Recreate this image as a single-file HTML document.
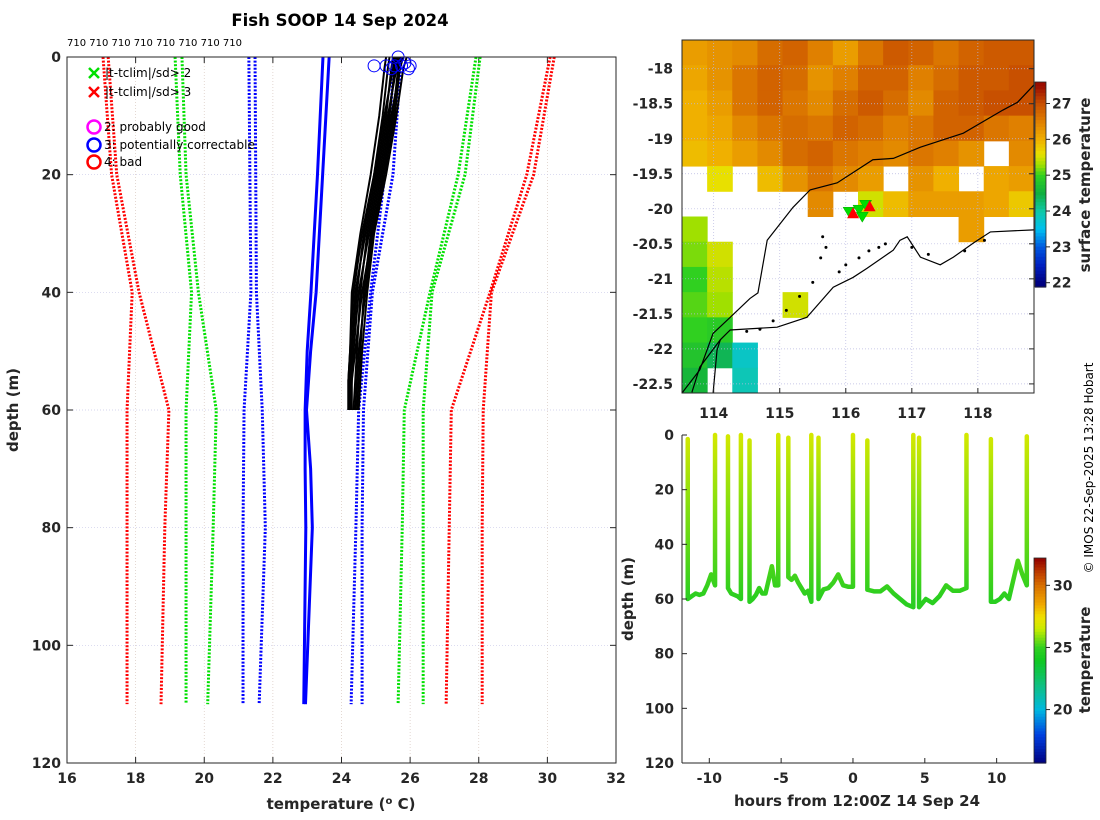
<!DOCTYPE html>
<html><head><meta charset="utf-8"><style>
html,body{margin:0;padding:0;background:#fff;}
svg{display:block;font-family:"DejaVu Sans","Liberation Sans",sans-serif;}
.tk{font-size:14px;font-weight:bold;fill:#262626;}
.lab{font-size:15px;font-weight:bold;fill:#262626;}
</style></head><body>
<svg id="fig" width="1100" height="820" viewBox="0 0 1100 820">
<defs>
<clipPath id="mapclip"><rect x="682" y="40" width="352" height="353"/></clipPath>
<clipPath id="lclip"><rect x="67" y="57" width="549" height="706"/></clipPath>
</defs>
<text x="340" y="26" text-anchor="middle" style="font-size:16.5px;font-weight:bold" fill="#000">Fish SOOP 14 Sep 2024</text>
<text x="67" y="46" style="font-size:10px" fill="#000">710 710 710 710 710 710 710 710</text>
<g id="left"></g>
<g id="map"></g>
<g id="ts"></g>
<text transform="translate(1093,468) rotate(-90)" text-anchor="middle" style="font-size:12px" fill="#000">© IMOS 22-Sep-2025 13:28 Hobart</text>
</svg>
<script>
// ---------- LEFT PANEL DATA ----------
const climDepths=[0,20,40,60,80,110];
const climColors=['red','red','#00e000','#00e000','blue','blue','blue','blue','#00e000','#00e000','red','red'];
const climTemps=[
 [17.05,17.3,17.9,17.75,17.75,17.75],
 [17.2,17.45,18.1,18.97,18.85,18.74],
 [19.15,19.3,19.63,19.47,19.47,19.47],
 [19.35,19.47,19.83,20.35,20.26,20.1],
 [21.3,21.33,21.36,21.16,21.13,21.13],
 [21.48,21.5,21.52,21.69,21.78,21.6],
 [25.56,25.26,24.85,24.5,24.42,24.28],
 [25.74,25.5,24.9,24.64,24.6,24.6],
 [27.92,27.4,26.58,25.83,25.77,25.65],
 [28.04,27.6,26.64,26.38,26.38,26.38],
 [30.08,29.4,28.33,27.2,27.14,27.05],
 [30.2,29.6,28.37,28.13,28.1,28.1]];
const blueDepths=[0,20,40,50,60,70,80,110];
const blueTemps=[[23.46,23.3,23.11,23.0,22.94,22.94,22.96,22.9],[23.64,23.45,23.26,23.1,22.98,23.1,23.15,22.95]];
const profDepths=[0,2,10,20,30,40,50,55,60];
const profTemps=[
 [25.5,25.45,25.3,25.0,24.7,24.4,24.3,24.25,24.2],
 [25.6,25.55,25.4,25.1,24.8,24.5,24.35,24.3,24.25],
 [25.7,25.65,25.5,25.2,24.9,24.6,24.4,24.3,24.3],
 [25.8,25.7,25.55,25.25,24.9,24.7,24.5,24.45,24.4],
 [25.9,25.8,25.6,25.3,24.95,24.75,24.6,24.55,24.5],
 [25.4,25.35,25.2,24.95,24.6,24.35,24.25,24.2,24.2],
 [25.65,25.6,25.35,25.05,24.75,24.55,24.45,24.4,24.35],
 [25.75,25.7,25.45,25.15,24.85,24.65,24.55,24.5,24.45],
 [25.3,25.25,25.1,24.85,24.55,24.3,24.25,24.2,24.2],
 [25.55,25.5,25.25,24.95,24.65,24.45,24.3,24.25,24.25]];
const flagTemps=[24.95,25.3,25.45,25.55,25.65,25.75,25.85,25.95,26.0];
const flagDepths=[1.5,1.5,2,1.5,0,1.5,1,2,1.5];
const xTicksL=[16,18,20,22,24,26,28,30,32];
const yTicksL=[0,20,40,60,80,100,120];
// ---------- MAP DATA ----------
const lonMin=113.52, lonMax=118.85, latMax=-17.59, latMin=-22.63;
const sstRows=[
 [26.2,26.3,26.4,26.7,26.8,26.5,26.2,26.6,26.9,26.8,26.6,26.8,26.9,26.9],
 [26.1,26.3,26.6,26.8,26.7,26.3,26.5,26.8,26.8,26.5,26.7,26.9,26.9,27.0],
 [26.0,26.2,26.6,26.8,26.6,26.4,26.7,26.9,26.7,26.4,26.8,26.9,27.0,27.0],
 [26.0,26.1,26.4,26.6,26.7,26.6,26.8,26.7,26.5,26.6,26.8,26.8,26.6,26.5],
 [25.9,26.0,26.2,26.4,26.7,26.8,26.6,26.5,26.4,26.6,26.5,26.3,null,26.4],
 [null,25.6,null,25.9,26.3,26.6,26.4,26.2,null,26.3,26.0,null,26.1,26.2],
 [null,null,null,null,null,26.4,null,25.5,25.9,26.2,26.2,26.2,26.1,25.8],
 [25.3,null,null,null,null,null,null,null,null,null,null,26.2,null,null],
 [25.2,25.5,null,null,null,null,null,null,null,null,null,null,null,null],
 [25.0,25.4,null,null,null,null,null,null,null,null,null,null,null,null],
 [25.1,25.3,null,null,25.5,null,null,null,null,null,null,null,null,null],
 [25.0,24.9,null,null,null,null,null,null,null,null,null,null,null,null],
 [24.8,24.4,23.8,null,null,null,null,null,null,null,null,null,null,null],
 [24.6,null,23.9,null,null,null,null,null,null,null,null,null,null,null]];
const coastLon=[113.67,113.79,114.10,114.25,114.96,115.41,115.81,116.11,116.32,116.72,116.82,116.93,117.13,117.43,117.63,117.93,118.19,118.86];
const coastLat=[-22.62,-22.26,-21.87,-21.73,-21.69,-21.55,-21.12,-20.98,-20.85,-20.59,-20.45,-20.40,-20.69,-20.80,-20.69,-20.49,-20.33,-20.30];
const gulfLon=[113.99,114.05,114.10];
const gulfLat=[-22.64,-22.02,-21.87];
const isoLon=[113.52,113.79,113.99,114.25,114.55,114.67,114.81,115.20,115.46,115.87,116.41,116.72,117.13,117.78,118.38,118.60,118.86];
const isoLat=[-22.63,-22.30,-21.78,-21.55,-21.28,-21.20,-20.45,-19.98,-19.73,-19.63,-19.30,-19.28,-19.12,-18.92,-18.59,-18.48,-18.22];
const islLon=[115.65,115.7,115.62,115.5,115.3,115.1,114.9,114.7,114.5,115.9,116.0,116.2,116.35,116.5,116.6,117.0,117.25,117.8,118.1];
const islLat=[-20.4,-20.55,-20.7,-21.05,-21.25,-21.45,-21.6,-21.72,-21.75,-20.9,-20.8,-20.7,-20.6,-20.55,-20.5,-20.55,-20.65,-20.6,-20.45];
const markLon=[116.05,116.2,116.3,116.25];
const markLat=[-20.05,-20.02,-19.95,-20.12];
const mapXTicks=[114,115,116,117,118];
const mapYTicks=[-18,-18.5,-19,-19.5,-20,-20.5,-21,-21.5,-22,-22.5];
const sstTicks=[22,23,24,25,26,27];
// ---------- TIME SERIES DATA ----------
const castStart=[-11.5,-8.7,-7.2,-4.5,-2.4,1.0,4.6,9.6];
const castEnd=[-9.6,-7.8,-5.2,-2.9,0.0,4.2,7.9,12.1];
const castTopStart=[1.5,0.5,2,1,1,2,1,1.5];
const castTopEnd=[0,0,0,0,0,0,0,0.5];
const castBottom=[
 [60,59,58,58.5,58,55,51,55],
 [56,58,58.5,59,60],
 [61,60,58.5,56,58,58,53,48,55,55],
 [52,53,51.5,54,56,58,57,61],
 [60,56.5,56,54,51,55,55.5,55.5],
 [56.6,57.2,57.2,55.4,58,60,62,63],
 [63,60,61.5,59,55,57,57,56],
 [61,61,60,58,60,53,46,51,55]];
const tsXTicks=[-10,-5,0,5,10];
const tsYTicks=[0,20,40,60,80,100,120];
const tempTicks=[20,25,30];

const NS='http://www.w3.org/2000/svg';
function mk(parent,tag,attrs,text){const e=document.createElementNS(NS,tag);for(const k in attrs)e.setAttribute(k,attrs[k]);if(text!==undefined)e.textContent=text;parent.appendChild(e);return e;}
function lerpCol(stops,v){if(v<=stops[0][0])return stops[0][1];for(let i=1;i<stops.length;i++){if(v<=stops[i][0]){const a=stops[i-1],b=stops[i];const f=(v-a[0])/(b[0]-a[0]);const ca=hex(a[1]),cb=hex(b[1]);return 'rgb('+ca.map((c,j)=>Math.round(c+(cb[j]-c)*f)).join(',')+')';}}return stops[stops.length-1][1];}
function hex(h){return [1,3,5].map(i=>parseInt(h.substr(i,2),16));}
const sstStops=[[22,'#00007f'],[22.5,'#0020c0'],[23,'#0058e0'],[23.5,'#00c0f0'],[24,'#10c8a8'],[24.5,'#10b040'],[25,'#30d020'],[25.3,'#a0e000'],[25.6,'#e8e000'],[26,'#f0b000'],[26.5,'#e08000'],[27,'#c85000'],[27.5,'#9a0c00']];
const tStops=[[15.7,'#00007f'],[18,'#0040e0'],[20,'#00b8e0'],[22,'#10c080'],[24,'#10c820'],[25,'#30d020'],[26.5,'#c8ec00'],[27.5,'#f0e000'],[28.5,'#f0a800'],[30,'#d87000'],[31,'#c04000'],[32.2,'#900000']];

// ===== LEFT PANEL =====
(function(){
 const g=document.getElementById('left');
 const X0=67,X1=616,Y0=57,Y1=763;
 const xs=t=>X0+(t-16)/(32-16)*(X1-X0), ys=d=>Y0+d/120*(Y1-Y0);
 xTicksL.forEach(t=>{
  const l=mk(g,'line',{x1:xs(t),x2:xs(t),y1:Y0,y2:Y1,stroke:'#d8c8c0','stroke-width':0.7,'stroke-dasharray':'1 2'});
  
  mk(g,'line',{x1:xs(t),x2:xs(t),y1:Y1,y2:Y1-6,stroke:'#262626'});
  mk(g,'line',{x1:xs(t),x2:xs(t),y1:Y0,y2:Y0+6,stroke:'#262626'});
  const tx=mk(g,'text',{x:xs(t),y:Y1+20,'text-anchor':'middle',class:'tk'},t);
  
 });
 yTicksL.forEach(d=>{
  const l=mk(g,'line',{x1:X0,x2:X1,y1:ys(d),y2:ys(d),stroke:'#c8c8e8','stroke-width':0.7,'stroke-dasharray':'1 2'});
  
  mk(g,'line',{x1:X0,x2:X0+6,y1:ys(d),y2:ys(d),stroke:'#262626'});
  mk(g,'line',{x1:X1,x2:X1-6,y1:ys(d),y2:ys(d),stroke:'#262626'});
  const tx=mk(g,'text',{x:X0-6,y:ys(d)+5,'text-anchor':'end',class:'tk'},d);
  
 });
 const pg=mk(g,'g',{'clip-path':'url(#lclip)'});
 climTemps.forEach((arr,i)=>{
  const p=mk(pg,'polyline',{points:arr.map((t,j)=>xs(t)+','+ys(climDepths[j])).join(' '),fill:'none',stroke:climColors[i],'stroke-width':3,'stroke-dasharray':'2 1.6'});
  
 });
 blueTemps.forEach(arr=>{
  const p=mk(pg,'polyline',{points:arr.map((t,j)=>xs(t)+','+ys(blueDepths[j])).join(' '),fill:'none',stroke:'#0000ff','stroke-width':3});
  
 });
 profTemps.forEach(arr=>{
  const p=mk(pg,'polyline',{points:arr.map((t,j)=>xs(t)+','+ys(profDepths[j])).join(' '),fill:'none',stroke:'#000','stroke-width':2,'stroke-linejoin':'round'});
  
 });
 flagTemps.forEach((t,i)=>{
  const c=mk(g,'circle',{cx:xs(t),cy:ys(flagDepths[i]),r:6,fill:'none',stroke:'#0000ff','stroke-width':1});
  
 });
 mk(g,'rect',{x:X0,y:Y0,width:X1-X0,height:Y1-Y0,fill:'none',stroke:'#262626','stroke-width':1});
 const lg=mk(g,'g',{});
 const crosses=[['#00e000',73,'|t-tclim|/sd> 2'],['red',92,'|t-tclim|/sd> 3']];
 crosses.forEach(c=>{
  const e=mk(lg,'g',{});
  mk(e,'path',{d:`M89 ${c[1]-5}l10 10M99 ${c[1]-5}l-10 10`,stroke:c[0],'stroke-width':2.5});
  mk(e,'text',{x:105,y:c[1]+4,style:'font-size:12px',fill:'#000'},c[2]);
 });
 const circs=[['#ff00ff',127,'2: probably good'],['#0000ff',145,'3: potentially correctable'],['red',162,'4: bad']];
 circs.forEach(c=>{
  const e=mk(lg,'g',{});
  mk(e,'circle',{cx:94,cy:c[1],r:6.5,fill:'none',stroke:c[0],'stroke-width':2.5});
  mk(e,'text',{x:104,y:c[1]+4,style:'font-size:12px',fill:'#000'},c[2]);
 });
 const xl=mk(g,'text',{x:341,y:809,'text-anchor':'middle',class:'lab'});
 xl.innerHTML='temperature (<tspan dy="-5" style="font-size:10px">o</tspan><tspan dy="5"> C)</tspan>';
 
 const yl=mk(g,'text',{transform:'translate(18,410) rotate(-90)','text-anchor':'middle',class:'lab'},'depth (m)');
 
})();

// ===== MAP =====
(function(){
 const g=document.getElementById('map');
 const X0=682,X1=1034,Y0=40,Y1=393;
 const xs=lo=>X0+(lo-lonMin)/(lonMax-lonMin)*(X1-X0), ys=la=>Y0+(latMax-la)/(latMax-latMin)*(Y1-Y0);
 const cg=mk(g,'g',{'clip-path':'url(#mapclip)'});
 const nr=sstRows.length,nc=sstRows[0].length;
 const dlon=(lonMax-lonMin)/nc,dlat=(latMax-latMin)/nr;
 sstRows.forEach((row,r)=>row.forEach((v,c)=>{
  if(v===null)return;
  const x=xs(lonMin+c*dlon),y=ys(latMax-r*dlat);
  const cell=mk(cg,'rect',{x:x,y:y,width:xs(lonMin+(c+1)*dlon)-x+0.5,height:ys(latMax-(r+1)*dlat)-y+0.5,fill:lerpCol(sstStops,v)});
  
 }));
 mapXTicks.forEach(t=>{
  mk(cg,'line',{x1:xs(t),x2:xs(t),y1:Y0,y2:Y1,stroke:'#b8b8e0','stroke-width':0.7,'stroke-dasharray':'1 2'});
  mk(g,'line',{x1:xs(t),x2:xs(t),y1:Y1,y2:Y1-5,stroke:'#262626'});
  const tx=mk(g,'text',{x:xs(t),y:Y1+25,'text-anchor':'middle',class:'tk'},t);
  
 });
 mapYTicks.forEach(t=>{
  mk(cg,'line',{x1:X0,x2:X1,y1:ys(t),y2:ys(t),stroke:'#b8b8e0','stroke-width':0.7,'stroke-dasharray':'1 2'});
  mk(g,'line',{x1:X1,x2:X1-5,y1:ys(t),y2:ys(t),stroke:'#262626'});
  const tx=mk(g,'text',{x:X0-9,y:ys(t)+5,'text-anchor':'end',class:'tk'},t);
  
 });
 const iso=mk(cg,'polyline',{points:isoLon.map((lo,i)=>xs(lo)+','+ys(isoLat[i])).join(' '),fill:'none',stroke:'#000','stroke-width':1.2});
 
 const co=mk(cg,'polyline',{points:coastLon.map((lo,i)=>xs(lo)+','+ys(coastLat[i])).join(' '),fill:'none',stroke:'#000','stroke-width':1.2});
 
 const gu=mk(cg,'polyline',{points:gulfLon.map((lo,i)=>xs(lo)+','+ys(gulfLat[i])).join(' '),fill:'none',stroke:'#000','stroke-width':1.2});
 
 islLon.forEach((lo,i)=>{const d=mk(cg,'circle',{cx:xs(lo),cy:ys(islLat[i]),r:1.5,fill:'#000'});});
 markLon.forEach((lo,i)=>{
  const x=xs(lo),y=ys(markLat[i]);
  const a=mk(cg,'path',{d:`M${x-6} ${y-5}h12l-6 10z`,fill:'#00dd00',stroke:'#00aa00','stroke-width':0.5});
  
 });
 markLon.forEach((lo,i)=>{
  if(i%2)return;
  const x=xs(lo)+4,y=ys(markLat[i])+1;
  const a=mk(cg,'path',{d:`M${x-6} ${y+5}h12l-6 -11z`,fill:'#ff0000'});
  
 });
 mk(g,'rect',{x:X0,y:Y0,width:X1-X0,height:Y1-Y0,fill:'none',stroke:'#262626','stroke-width':1});
 const cb=mk(g,'g',{});
 const C0=82,C1=287,vmin=21.88,vmax=27.6;const cy=v=>C1-(v-vmin)/(vmax-vmin)*(C1-C0);
 for(let i=0;i<60;i++){const v0=vmin+i*(vmax-vmin)/60,v1=v0+(vmax-vmin)/60;mk(cb,'rect',{x:1035,y:cy(v1),width:11,height:cy(v0)-cy(v1)+0.6,fill:lerpCol(sstStops,(v0+v1)/2)});}
 mk(cb,'rect',{x:1035,y:C0,width:11,height:C1-C0,fill:'none',stroke:'#262626','stroke-width':0.8});
 sstTicks.forEach(t=>{mk(cb,'line',{x1:1046,x2:1050,y1:cy(t),y2:cy(t),stroke:'#262626'});const tx=mk(cb,'text',{x:1052,y:cy(t)+5,class:'tk'},t);});
 const ct=mk(g,'text',{transform:'translate(1090,185) rotate(-90)','text-anchor':'middle',class:'lab'},'surface temperature');
 
})();

// ===== TIME SERIES =====
(function(){
 const g=document.getElementById('ts');
 const X0=682,X1=1034,Y0=435,Y1=763;
 const tmin=-11.9,tmax=12.6;
 const xs=t=>X0+(t-tmin)/(tmax-tmin)*(X1-X0), ys=d=>Y0+d/120*(Y1-Y0);
 const defs=document.querySelector('defs');
 const lg=mk(defs,'linearGradient',{id:'castgrad',gradientUnits:'userSpaceOnUse',x1:0,x2:0,y1:ys(0),y2:ys(60)});
 mk(lg,'stop',{offset:0,'stop-color':lerpCol(tStops,26.8)});
 mk(lg,'stop',{offset:0.45,'stop-color':lerpCol(tStops,25.8)});
 mk(lg,'stop',{offset:1,'stop-color':lerpCol(tStops,24.8)});
 castStart.forEach((ts,i)=>{
  const te=castEnd[i],b=castBottom[i],n=b.length;
  const pts=[[ts,castTopStart[i]]];
  b.forEach((d,j)=>pts.push([ts+(te-ts)*j/(n-1),d]));
  pts.push([te,castTopEnd[i]]);
  const p=mk(g,'polyline',{points:pts.map(q=>xs(q[0])+','+ys(q[1])).join(' '),fill:'none',stroke:'url(#castgrad)','stroke-width':4.5,'stroke-linejoin':'round','stroke-linecap':'round'});
  
 });
 tsXTicks.forEach(t=>{
  mk(g,'line',{x1:xs(t),x2:xs(t),y1:Y1,y2:Y1-5,stroke:'#262626'});
  const tx=mk(g,'text',{x:xs(t),y:Y1+20,'text-anchor':'middle',class:'tk'},t);
  
 });
 tsYTicks.forEach(d=>{
  mk(g,'line',{x1:X0,x2:X0+5,y1:ys(d),y2:ys(d),stroke:'#262626'});
  const tx=mk(g,'text',{x:X0-8,y:ys(d)+5,'text-anchor':'end',class:'tk'},d);
  
 });
 mk(g,'line',{x1:X0,x2:X0,y1:Y0,y2:Y1,stroke:'#262626'});
 mk(g,'line',{x1:X0,x2:X1,y1:Y1,y2:Y1,stroke:'#262626'});
 const xl=mk(g,'text',{x:857,y:806,'text-anchor':'middle',class:'lab'},'hours from 12:00Z 14 Sep 24');
 
 const yl=mk(g,'text',{transform:'translate(633,599) rotate(-90)','text-anchor':'middle',class:'lab'},'depth (m)');
 
 const cb=mk(g,'g',{});
 const C0=558,C1=763,vmin=15.7,vmax=32.2;const cy=v=>C1-(v-vmin)/(vmax-vmin)*(C1-C0);
 for(let i=0;i<70;i++){const v0=vmin+i*(vmax-vmin)/70,v1=v0+(vmax-vmin)/70;mk(cb,'rect',{x:1034,y:cy(v1),width:12,height:cy(v0)-cy(v1)+0.6,fill:lerpCol(tStops,(v0+v1)/2)});}
 mk(cb,'rect',{x:1034,y:C0,width:12,height:C1-C0,fill:'none',stroke:'#262626','stroke-width':0.8});
 tempTicks.forEach(t=>{mk(cb,'line',{x1:1046,x2:1050,y1:cy(t),y2:cy(t),stroke:'#262626'});const tx=mk(cb,'text',{x:1053,y:cy(t)+5,class:'tk'},t);});
 const ct=mk(g,'text',{transform:'translate(1090,660) rotate(-90)','text-anchor':'middle',class:'lab'},'temperature');
 
})();
</script>
</body></html>
